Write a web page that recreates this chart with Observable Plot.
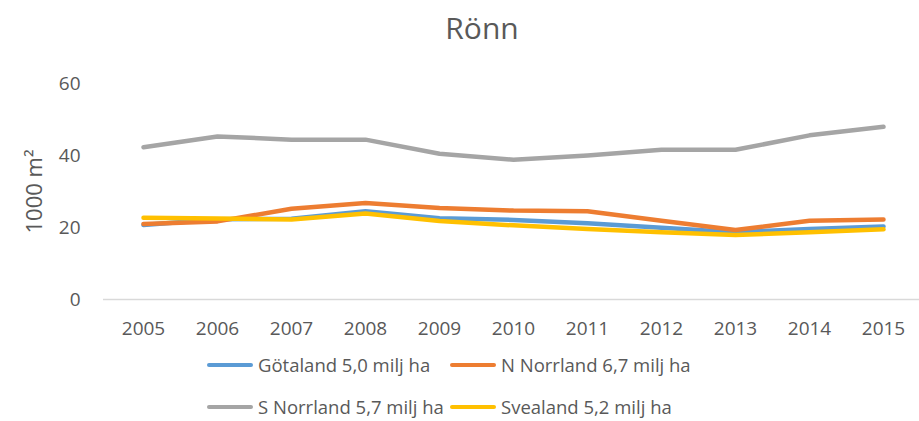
<!DOCTYPE html>
<html>
<head>
<meta charset="utf-8">
<script src="https://cdn.jsdelivr.net/npm/d3@7"></script>
<script src="https://cdn.jsdelivr.net/npm/@observablehq/plot@0.6"></script>
<style>
  html, body { margin: 0; padding: 0; background: #fff; }
  #root { position: relative; width: 919px; height: 421px; font-family: "Open Sans", sans-serif; color: #595959; overflow: hidden; }
  #title { height: 55px; line-height: 55px; text-align: center; font-size: 30px; color: #595959; padding-left: 45px; box-sizing: border-box; }
  #legend { position: relative; height: 66px; }
  .item { position: absolute; display: flex; align-items: center; font-size: 18.5px; line-height: 20px; height: 20px; white-space: nowrap; }
  .sw { width: 46px; height: 4.5px; border-radius: 3px; margin-right: 5px; }
</style>
</head>
<body>
<div id="root">
  <div id="title">Rönn</div>
  <div id="chart"></div>
  <div id="legend"></div>
</div>
<script>
const years = [2005, 2006, 2007, 2008, 2009, 2010, 2011, 2012, 2013, 2014, 2015];
const seriesNames = ["Götaland 5,0 milj ha", "N Norrland 6,7 milj ha", "S Norrland 5,7 milj ha", "Svealand 5,2 milj ha"];
const seriesColors = ["#5B9BD5", "#ED7D31", "#A5A5A5", "#FFC000"];
const gotaland  = [20.7, 22.3, 22.4, 24.5, 22.6, 22.1, 21.2, 19.9, 18.7, 19.6, 20.3];
const nNorrland = [21.0, 21.7, 25.2, 26.8, 25.4, 24.7, 24.5, 21.9, 19.3, 21.9, 22.2];
const sNorrland = [42.3, 45.3, 44.4, 44.4, 40.5, 38.8, 40.0, 41.6, 41.6, 45.6, 48.0];
const svealand  = [22.7, 22.5, 22.2, 23.9, 21.8, 20.6, 19.6, 18.7, 17.9, 18.7, 19.5];
const yTicks = [0, 20, 40, 60];
const yLabel = "1000 m²";

const seriesValues = [gotaland, nNorrland, sNorrland, svealand];
const data = seriesValues.flatMap((vals, i) =>
  vals.map((v, j) => ({year: String(years[j]), value: v, series: seriesNames[i]}))
);

const chart = Plot.plot({
  width: 919,
  height: 300,
  marginTop: 28,
  marginBottom: 56,
  marginLeft: 103,
  marginRight: 0,
  style: {fontFamily: "Open Sans, sans-serif", color: "#595959", background: "transparent", overflow: "visible"},
  x: {type: "point", domain: years.map(String), range: [103, 923], padding: 0.5},
  y: {domain: [0, 60]},
  color: {domain: seriesNames, range: seriesColors},
  marks: [
    Plot.ruleY([0], {stroke: "#d9d9d9", strokeWidth: 1.3}),
    Plot.axisX({tickSize: 0, tickPadding: 22, fontSize: 19, label: null, fill: "#595959"}),
    Plot.axisY({ticks: yTicks, tickSize: 0, tickPadding: 23, fontSize: 19, label: null, fill: "#595959"}),
    Plot.text([yLabel], {text: d => d, frameAnchor: "left", textAnchor: "middle", dx: -69, rotate: -90, fontSize: 22, fill: "#595959"}),
    ...seriesNames.map(name =>
      Plot.line(data.filter(d => d.series === name), {
        x: "year", y: "value", stroke: "series", strokeWidth: 4.5,
        strokeLinecap: "round", strokeLinejoin: "round"
      })
    )
  ]
});
document.getElementById("chart").appendChild(chart);

const legendPos = [[207, 10], [450, 10], [207, 52], [450, 52]];
const legend = document.getElementById("legend");
seriesNames.forEach((name, i) => {
  const it = document.createElement("div");
  it.className = "item";
  it.style.left = legendPos[i][0] + "px";
  it.style.top = (legendPos[i][1] - 10) + "px";
  const sw = document.createElement("div");
  sw.className = "sw";
  sw.style.background = seriesColors[i];
  it.appendChild(sw);
  const t = document.createElement("span");
  t.textContent = name;
  it.appendChild(t);
  legend.appendChild(it);
});
</script>
</body>
</html>
